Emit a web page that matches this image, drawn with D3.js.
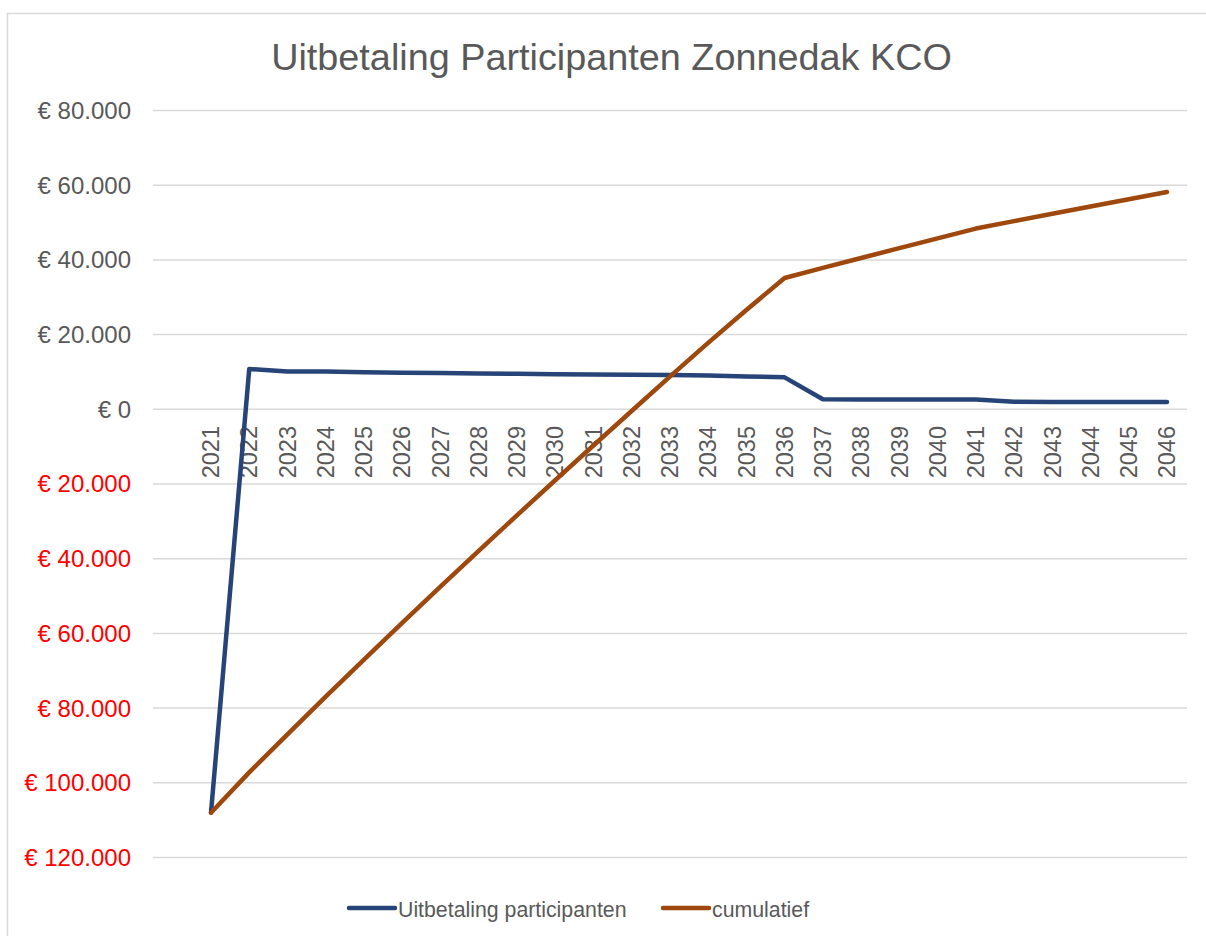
<!DOCTYPE html>
<html>
<head>
<meta charset="utf-8">
<script src="https://cdn.jsdelivr.net/npm/d3@7"></script>
<style>
html,body{margin:0;padding:0;background:#fff;}
svg{display:block;font-family:"Liberation Sans",Arial,Helvetica,sans-serif;}
</style>
</head>
<body>
<svg id="chart" width="1206" height="936"></svg>
<script>
// ---- data ----
const years = ["2021","2022","2023","2024","2025","2026","2027","2028","2029","2030","2031","2032","2033",
  "2034","2035","2036","2037","2038","2039","2040","2041","2042","2043","2044","2045","2046"];
const uitbetaling = [-108000,10800,10150,10100,9950,9800,9700,9600,9500,9400,9300,9250,9200,
  9050,8800,8550,2700,2650,2650,2620,2620,2000,1950,1950,1950,1950];
const cumulatief = [-108000,-97200,-87050,-76950,-67000,-57200,-47500,-37900,-28400,-19000,-9700,-450,8750,
  17800,26600,35150,37850,40500,43150,45770,48390,50390,52340,54290,56240,58190];
const yTicks = [80000,60000,40000,20000,0,-20000,-40000,-60000,-80000,-100000,-120000];
const seriesNames = ["Uitbetaling participanten","cumulatief"];
const seriesColors = ["#264478","#9E480E"];
const title = "Uitbetaling Participanten Zonnedak KCO";

// ---- layout ----
const svg = d3.select("#chart");
const gridLeft = 153, gridRight = 1187;
const x = d3.scalePoint().domain(years).range([211, 1167]);
const y = d3.scaleLinear().domain([-120000, 80000]).range([857.5, 110.5]);

// chart border
svg.append("rect").attr("x",7.5).attr("y",13.5).attr("width",1400).attr("height",1100)
  .attr("fill","none").attr("stroke","#d9d9d9").attr("stroke-width",1.5);

// title
svg.append("text").attr("x",611.5).attr("y",70).attr("text-anchor","middle")
  .attr("font-size",37.8).attr("fill","#595959").text(title);

// gridlines
svg.append("g").selectAll("line").data(yTicks).join("line")
  .attr("x1",gridLeft).attr("x2",gridRight)
  .attr("y1",d=>y(d)).attr("y2",d=>y(d))
  .attr("stroke","#d9d9d9").attr("stroke-width",1.5);

// y labels
const fmt = v => "€ " + (v===0 ? "0" : d3.format(",")(Math.abs(v)).replace(/,/g,"."));
svg.append("g").selectAll("text").data(yTicks).join("text")
  .attr("x",131).attr("y",d=>y(d)).attr("dy","0.35em").attr("text-anchor","end")
  .attr("font-size",24).attr("fill",d=>d<0?"#ff0000":"#595959").text(fmt);

// x labels (rotated)
svg.append("g").selectAll("text").data(years).join("text")
  .attr("transform",d=>`translate(${x(d)},426) rotate(-90)`)
  .attr("text-anchor","end").attr("dy","0.35em")
  .attr("font-size",23.5).attr("fill","#595959").text(d=>d);

// lines
const line = d3.line().x((d,i)=>x(years[i])).y(d=>y(d));
[uitbetaling, cumulatief].forEach((s,k)=>{
  svg.append("path").datum(s).attr("d",line).attr("fill","none")
    .attr("stroke",seriesColors[k]).attr("stroke-width",4.5)
    .attr("stroke-linejoin","round").attr("stroke-linecap","round");
});

// legend
const legend = [{x1:349,x2:395,tx:398},{x1:663,x2:709,tx:712}];
legend.forEach((L,k)=>{
  svg.append("line").attr("x1",L.x1).attr("x2",L.x2).attr("y1",908).attr("y2",908)
    .attr("stroke",seriesColors[k]).attr("stroke-width",4.5).attr("stroke-linecap","round");
  svg.append("text").attr("x",L.tx).attr("y",916.5).attr("font-size",21.3)
    .attr("fill","#595959").text(seriesNames[k]);
});
</script>
</body>
</html>
